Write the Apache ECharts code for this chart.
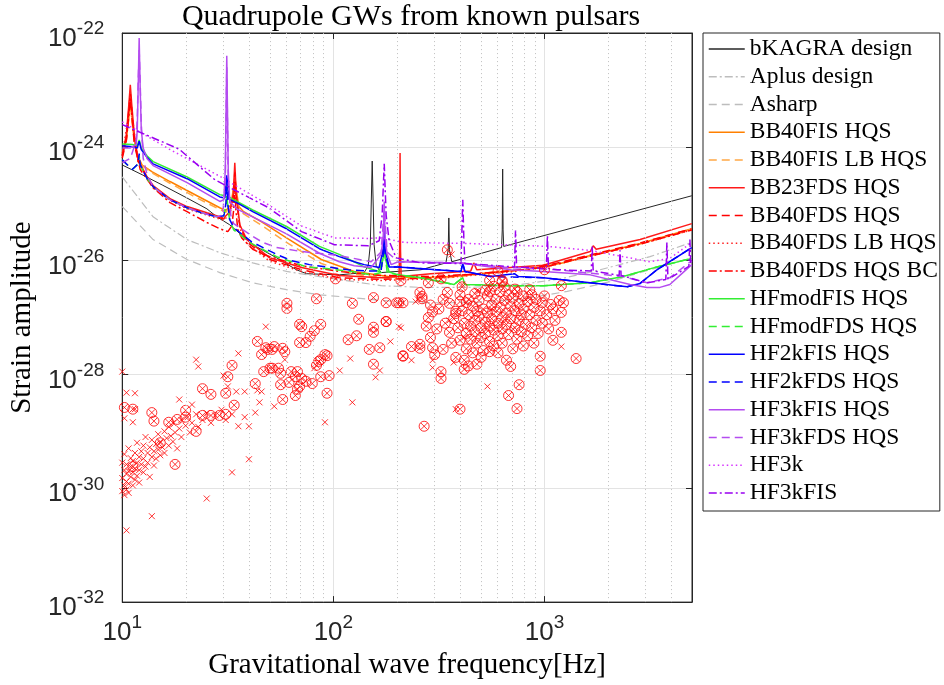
<!DOCTYPE html>
<html><head><meta charset="utf-8">
<script src="https://cdn.jsdelivr.net/npm/echarts@6/dist/echarts.min.js"></script>
<style>html,body{margin:0;padding:0;background:#fff}#c{width:944px;height:685px}</style>
</head><body><div id="c"></div>
<script>
// All values are [log10(frequency / Hz), log10(strain amplitude)].
const xTickValues = [10, 100, 1000];
const yTickExponents = [-32, -30, -28, -26, -24, -22];

const bKAGRA = [[1.000,-24.32],[1.094,-24.49],[1.189,-24.67],[1.302,-24.89],[1.401,-25.09],[1.448,-25.23],[1.509,-25.37],[1.618,-25.72],[1.731,-25.95],[1.825,-26.16],[1.873,-26.23],[2.028,-26.25],[2.146,-26.21],[2.165,-26.09],[2.175,-25.72],[2.184,-24.25],[2.193,-25.72],[2.203,-26.09],[2.226,-26.21],[2.415,-26.16],[2.533,-26.04],[2.544,-25.81],[2.547,-25.25],[2.550,-25.81],[2.561,-26.02],[2.797,-25.77],[2.800,-25.46],[2.802,-24.39],[2.804,-25.46],[2.807,-25.75],[3.698,-24.86]];
const aplus = [[1.000,-24.53],[1.146,-25.23],[1.307,-25.63],[1.462,-25.86],[1.618,-26.04],[1.778,-26.19],[1.934,-26.28],[2.061,-26.35],[2.226,-26.44],[2.415,-26.47],[2.651,-26.47],[2.887,-26.42],[3.075,-26.32],[3.264,-26.16],[3.500,-25.93],[3.698,-25.68]];
const asharp = [[1.000,-25.05],[1.146,-25.63],[1.307,-25.98],[1.462,-26.21],[1.618,-26.39],[1.778,-26.51],[1.934,-26.60],[2.028,-26.63],[2.226,-26.70],[2.429,-26.74],[2.651,-26.74],[2.887,-26.68],[3.108,-26.54],[3.311,-26.37],[3.500,-26.16],[3.698,-25.95]];
const bb40fis = [[1.000,-24.11],[1.019,-23.88],[1.031,-23.49],[1.038,-23.21],[1.045,-23.49],[1.057,-23.88],[1.071,-24.14],[1.094,-24.32],[1.142,-24.44],[1.226,-24.61],[1.354,-24.86],[1.462,-25.07],[1.491,-25.12],[1.514,-25.02],[1.526,-24.75],[1.533,-24.51],[1.540,-24.75],[1.552,-25.05],[1.575,-25.14],[1.660,-25.32],[1.778,-25.60],[1.943,-25.98],[2.099,-26.19],[2.259,-26.28],[2.415,-26.30],[2.571,-26.28],[2.745,-26.21],[2.901,-26.16],[3.075,-26.05],[3.217,-25.91],[3.453,-25.70],[3.698,-25.44]];
const bb40fisLB = [[1.000,-24.11],[1.019,-23.88],[1.031,-23.49],[1.038,-23.21],[1.045,-23.49],[1.057,-23.88],[1.071,-24.14],[1.094,-24.33],[1.142,-24.46],[1.226,-24.64],[1.354,-24.90],[1.462,-25.10],[1.491,-25.15],[1.514,-25.05],[1.526,-24.78],[1.533,-24.55],[1.540,-24.78],[1.552,-25.08],[1.575,-25.18],[1.660,-25.38],[1.778,-25.68],[1.943,-26.05],[2.099,-26.24],[2.259,-26.31],[2.415,-26.32],[2.571,-26.29],[2.745,-26.22],[2.901,-26.16],[3.075,-26.05],[3.217,-25.92],[3.453,-25.71],[3.698,-25.45]];
const bb23fds = [[1.000,-24.14],[1.019,-23.79],[1.031,-23.26],[1.038,-22.91],[1.045,-23.26],[1.057,-23.79],[1.075,-24.23],[1.118,-24.53],[1.146,-24.68],[1.226,-24.91],[1.307,-25.05],[1.401,-25.16],[1.481,-25.25],[1.509,-25.14],[1.526,-24.84],[1.533,-24.28],[1.540,-24.84],[1.557,-25.37],[1.590,-25.63],[1.698,-25.95],[1.849,-26.12],[2.028,-26.26],[2.226,-26.30],[2.311,-26.28],[2.314,-25.81],[2.316,-24.11],[2.318,-25.81],[2.321,-26.28],[2.462,-26.23],[2.651,-26.18],[2.665,-26.04],[2.679,-26.16],[2.840,-26.12],[2.995,-26.08],[3.217,-25.84],[3.231,-25.74],[3.245,-25.80],[3.453,-25.63],[3.698,-25.35]];
const bb40fds = [[1.000,-24.16],[1.019,-23.85],[1.031,-23.35],[1.038,-23.05],[1.045,-23.35],[1.057,-23.85],[1.075,-24.25],[1.118,-24.55],[1.146,-24.70],[1.226,-24.92],[1.307,-25.07],[1.401,-25.18],[1.481,-25.27],[1.509,-25.16],[1.526,-24.90],[1.533,-24.45],[1.540,-24.90],[1.557,-25.40],[1.590,-25.67],[1.698,-25.98],[1.849,-26.16],[2.028,-26.30],[2.226,-26.33],[2.462,-26.30],[2.651,-26.24],[2.840,-26.18],[2.995,-26.10],[3.217,-25.90],[3.453,-25.69],[3.698,-25.44]];
const bb40fdsLB = [[1.000,-24.16],[1.031,-23.40],[1.038,-23.10],[1.045,-23.40],[1.075,-24.27],[1.146,-24.72],[1.226,-24.94],[1.307,-25.09],[1.401,-25.20],[1.481,-25.29],[1.509,-25.18],[1.526,-24.95],[1.533,-24.55],[1.540,-24.95],[1.557,-25.43],[1.590,-25.70],[1.698,-26.01],[1.849,-26.19],[2.028,-26.33],[2.226,-26.35],[2.462,-26.32],[2.651,-26.26],[2.840,-26.20],[2.995,-26.12],[3.217,-25.92],[3.453,-25.71],[3.698,-25.46]];
const bb40fdsBC = [[1.000,-24.20],[1.019,-23.90],[1.031,-23.45],[1.038,-23.15],[1.045,-23.45],[1.057,-23.95],[1.085,-24.40],[1.146,-24.72],[1.226,-24.98],[1.307,-25.14],[1.401,-25.33],[1.462,-25.44],[1.500,-25.49],[1.519,-25.39],[1.528,-25.10],[1.533,-24.70],[1.538,-25.10],[1.547,-25.45],[1.566,-25.60],[1.618,-25.80],[1.698,-25.93],[1.849,-26.09],[2.028,-26.19],[2.226,-26.26],[2.462,-26.28],[2.651,-26.24],[2.840,-26.18],[2.995,-26.12],[3.217,-25.92],[3.453,-25.71],[3.698,-25.46]];
const hfmodFIS = [[1.000,-23.95],[1.047,-23.96],[1.071,-23.98],[1.080,-23.88],[1.090,-24.02],[1.118,-24.16],[1.146,-24.26],[1.307,-24.53],[1.462,-24.84],[1.486,-24.86],[1.495,-24.60],[1.505,-24.88],[1.528,-24.93],[1.618,-25.11],[1.778,-25.40],[1.934,-25.75],[2.028,-25.89],[2.146,-26.11],[2.217,-26.19],[2.236,-25.95],[2.241,-25.65],[2.245,-25.95],[2.264,-26.20],[2.307,-26.25],[2.415,-26.30],[2.571,-26.42],[2.613,-26.30],[2.623,-26.42],[2.840,-26.44],[2.995,-26.44],[3.217,-26.39],[3.373,-26.28],[3.533,-26.11],[3.698,-25.96]];
const hfmodFDS = [[1.000,-24.23],[1.047,-24.40],[1.075,-24.30],[1.080,-24.15],[1.085,-24.32],[1.118,-24.56],[1.146,-24.70],[1.226,-24.93],[1.307,-25.07],[1.377,-25.16],[1.448,-25.23],[1.481,-25.21],[1.491,-25.05],[1.495,-24.85],[1.500,-25.05],[1.509,-25.30],[1.528,-25.46],[1.613,-25.70],[1.731,-25.93],[1.873,-26.11],[1.967,-26.14],[2.085,-26.19],[2.179,-26.25],[2.226,-26.21],[2.241,-25.75],[2.255,-26.21],[2.307,-26.25],[2.415,-26.30],[2.571,-26.42],[2.613,-26.30],[2.623,-26.42],[2.840,-26.44],[2.995,-26.44],[3.217,-26.39],[3.373,-26.28],[3.533,-26.11],[3.698,-25.96]];
const hf2kFIS = [[1.000,-23.98],[1.047,-24.00],[1.071,-24.02],[1.080,-23.90],[1.090,-24.05],[1.118,-24.19],[1.146,-24.30],[1.307,-24.56],[1.462,-24.88],[1.486,-24.90],[1.495,-24.50],[1.505,-24.92],[1.542,-24.98],[1.618,-25.14],[1.778,-25.44],[1.934,-25.79],[2.028,-25.93],[2.099,-26.02],[2.146,-26.07],[2.217,-26.12],[2.236,-25.80],[2.241,-25.40],[2.245,-25.80],[2.264,-26.11],[2.307,-26.11],[2.604,-26.19],[2.613,-26.05],[2.623,-26.19],[2.745,-26.28],[2.858,-26.23],[2.877,-26.28],[2.995,-26.30],[3.217,-26.39],[3.392,-26.46],[3.453,-26.40],[3.533,-26.16],[3.698,-25.77]];
const hf2kFDS = [[1.000,-24.23],[1.047,-24.40],[1.075,-24.30],[1.080,-24.12],[1.085,-24.32],[1.118,-24.56],[1.146,-24.70],[1.226,-24.93],[1.307,-25.07],[1.377,-25.16],[1.448,-25.23],[1.481,-25.21],[1.491,-25.00],[1.495,-24.70],[1.500,-25.00],[1.509,-25.28],[1.528,-25.42],[1.613,-25.67],[1.731,-25.89],[1.802,-26.00],[1.887,-26.07],[2.071,-26.16],[2.146,-26.18],[2.226,-26.18],[2.236,-25.90],[2.241,-25.50],[2.245,-25.90],[2.264,-26.11],[2.307,-26.11],[2.604,-26.19],[2.613,-26.05],[2.623,-26.19],[2.745,-26.28],[2.995,-26.30],[3.217,-26.39],[3.392,-26.46],[3.453,-26.40],[3.533,-26.16],[3.698,-25.77]];
const hf3kFIS = [[1.000,-24.02],[1.038,-24.02],[1.066,-23.96],[1.071,-23.70],[1.075,-23.00],[1.080,-22.09],[1.085,-23.00],[1.090,-23.70],[1.099,-24.02],[1.118,-24.21],[1.146,-24.33],[1.307,-24.63],[1.462,-24.96],[1.481,-24.93],[1.488,-24.40],[1.495,-22.40],[1.502,-24.40],[1.509,-24.96],[1.542,-25.09],[1.618,-25.23],[1.778,-25.53],[1.934,-25.87],[2.028,-26.02],[2.099,-26.09],[2.179,-26.12],[2.226,-25.89],[2.236,-25.60],[2.241,-24.96],[2.245,-25.60],[2.255,-25.89],[2.274,-26.07],[2.307,-26.02],[2.604,-26.04],[2.840,-26.16],[2.995,-26.19],[3.217,-26.25],[3.406,-26.42],[3.486,-26.47],[3.547,-26.47],[3.594,-26.42],[3.656,-26.21],[3.698,-26.07]];
const hf3kFDS = [[1.000,-24.28],[1.038,-24.20],[1.066,-23.90],[1.071,-23.50],[1.075,-22.90],[1.080,-22.30],[1.085,-22.90],[1.090,-23.60],[1.099,-24.20],[1.118,-24.50],[1.146,-24.70],[1.226,-24.93],[1.307,-25.07],[1.377,-25.16],[1.448,-25.23],[1.476,-25.20],[1.488,-24.60],[1.495,-22.60],[1.502,-24.60],[1.514,-25.20],[1.528,-25.35],[1.613,-25.56],[1.665,-25.68],[1.731,-25.77],[1.849,-25.84],[2.028,-25.91],[2.179,-26.02],[2.226,-25.85],[2.241,-25.10],[2.255,-25.85],[2.307,-26.02],[2.604,-26.04],[2.825,-26.12],[3.061,-26.16],[3.373,-26.28],[3.486,-26.39],[3.594,-26.30],[3.698,-26.00]];
const hf3k = [[1.000,-23.56],[1.222,-24.04],[1.458,-24.51],[1.693,-25.02],[1.849,-25.39],[2.005,-25.60],[2.165,-25.61],[2.226,-25.60],[2.335,-25.68],[2.651,-25.70],[3.014,-25.75],[3.217,-25.82],[3.373,-25.93],[3.500,-26.02],[3.594,-25.96],[3.698,-25.68]];
const hf3kFISdd = [[1.000,-23.61],[1.269,-24.04],[1.439,-24.58],[1.693,-25.07],[1.849,-25.49],[2.005,-25.72],[2.165,-25.74],[2.217,-25.65],[2.231,-25.20],[2.241,-24.30],[2.250,-25.20],[2.264,-25.65],[2.297,-25.95],[2.415,-26.04],[2.604,-26.05],[2.608,-25.60],[2.613,-24.93],[2.618,-25.60],[2.623,-26.05],[2.858,-26.11],[2.863,-25.47],[2.868,-26.11],[3.009,-26.14],[3.014,-25.56],[3.019,-26.14],[3.061,-26.16],[3.222,-26.18],[3.226,-25.74],[3.231,-26.18],[3.354,-26.26],[3.358,-25.82],[3.363,-26.26],[3.486,-26.39],[3.575,-26.33],[3.580,-25.68],[3.585,-26.33],[3.684,-26.10],[3.689,-25.63],[3.693,-26.05],[3.698,-26.00]];

// pulsars shown with a plain cross
const crossPts = [[1.00,-29.55],[1.00,-29.82],[1.00,-30.05],[1.01,-29.68],[1.01,-29.95],[1.01,-30.12],[1.01,-29.40],[1.02,-29.75],[1.02,-29.88],[1.02,-30.02],[1.02,-29.58],[1.03,-29.30],[1.03,-29.70],[1.03,-29.92],[1.03,-30.08],[1.04,-29.62],[1.04,-29.80],[1.04,-29.47],[1.05,-29.95],[1.05,-29.72],[1.05,-29.52],[1.06,-29.85],[1.06,-29.38],[1.06,-29.65],[1.07,-29.55],[1.07,-29.78],[1.07,-29.20],[1.08,-29.45],[1.08,-29.68],[1.08,-29.90],[1.09,-29.35],[1.09,-29.58],[1.10,-29.25],[1.10,-29.48],[1.10,-29.72],[1.11,-29.62],[1.11,-29.10],[1.12,-29.38],[1.12,-29.55],[1.13,-29.28],[1.13,-29.80],[1.14,-29.45],[1.14,-29.15],[1.15,-29.35],[1.15,-29.60],[1.16,-29.22],[1.16,-29.48],[1.17,-29.05],[1.17,-29.32],[1.18,-29.42],[1.18,-29.18],[1.19,-29.28],[1.20,-29.00],[1.20,-29.38],[1.21,-29.12],[1.22,-29.25],[1.22,-28.92],[1.23,-29.08],[1.24,-29.18],[1.24,-28.85],[1.25,-29.02],[1.26,-29.30],[1.27,-28.95],[1.28,-28.80],[1.28,-29.10],[1.30,-28.90],[1.31,-28.75],[1.32,-29.02],[1.33,-28.85],[1.35,-28.70],[1.36,-28.92],[1.38,-28.80],[1.40,-28.68],[1.42,-28.85],[1.44,-28.72],[1.47,-28.62],[1.49,-28.80],[1.52,-28.70],
[1.00,-27.95],[1.02,-28.32],[1.06,-28.33],[1.01,-28.77],[1.05,-28.84],[1.06,-28.61],[1.27,-28.44],[1.33,-28.53],[1.02,-30.74],[1.14,-30.49],[1.40,-30.18],[1.52,-29.72],[1.60,-29.49],[1.55,-28.91],[1.60,-28.91],[1.58,-28.75],[1.63,-28.67],[1.35,-27.74],[1.36,-27.86],[1.55,-27.63],[1.48,-28.02],[1.50,-28.21],[1.54,-28.30],[1.58,-28.30],[1.64,-28.28],[1.66,-28.30],[1.65,-28.49],[1.72,-28.56],[1.77,-27.74],[1.68,-27.16],[1.91,-27.89],[2.03,-27.93],[2.09,-28.49],[1.96,-28.84],[2.08,-27.72],[2.20,-28.05],[2.22,-27.93],[2.27,-27.42],[2.31,-27.16],
[2.32,-27.18],[2.37,-27.75],[2.47,-27.75],[2.47,-27.88],[2.39,-26.72],[2.57,-27.79],[2.73,-28.21],[3.08,-27.51],[2.69,-26.54],[2.61,-26.42],[2.91,-26.68],[2.40,-26.68],[2.51,-26.33],[2.56,-25.89],[2.68,-26.53],[2.55,-27.05],[2.62,-27.35],[2.75,-26.85],[2.85,-27.20],[2.58,-28.61]];

// pulsars shown with a circled cross
const circPts = [[2.01,-26.32],[1.92,-26.67],[1.78,-26.75],[1.78,-26.84],[2.09,-26.75],[2.19,-26.65],[2.25,-26.74],[2.30,-26.74],[2.12,-27.03],[2.25,-27.07],[2.19,-27.17],[2.19,-27.26],[2.11,-27.32],[2.07,-27.39],[1.84,-27.12],[1.85,-27.16],[1.94,-27.12],[1.91,-27.23],[1.89,-27.33],[1.87,-27.44],[1.84,-27.44],[1.64,-27.42],[1.68,-27.53],[1.72,-27.51],[1.71,-27.56],[1.69,-27.56],[1.76,-27.54],[1.77,-27.60],[1.66,-27.65],[1.96,-27.65],[1.97,-27.67],[1.94,-27.74],[1.93,-27.77],[1.92,-27.84],[2.17,-27.56],[2.22,-27.53],[2.19,-27.82],[2.33,-27.68],[1.52,-27.84],[1.50,-28.04],[1.67,-27.95],[1.71,-27.89],[1.74,-27.89],[1.70,-27.89],[1.75,-27.98],[1.80,-27.95],[1.83,-27.95],[1.75,-28.18],[1.79,-28.14],[1.82,-28.04],[1.85,-28.07],[1.87,-28.12],[1.90,-28.16],[1.84,-28.21],[1.83,-28.26],[1.82,-28.37],[1.76,-28.44],[1.98,-28.02],[1.94,-28.04],[1.97,-28.33],[1.63,-28.16],[1.38,-28.25],[1.42,-28.35],[1.49,-28.33],[1.53,-28.54],[1.01,-28.58],[1.05,-28.61],[1.15,-28.82],[1.22,-28.84],[1.26,-28.79],[1.30,-28.75],[1.38,-28.72],[1.42,-28.72],[1.46,-28.72],[1.49,-28.70],[1.35,-29.00],[1.25,-29.58],[1.14,-28.67],[1.30,-28.63],[1.18,-29.20],[1.05,-29.62],
[2.25,-27.07],[2.31,-26.74],[2.33,-26.74],[2.41,-26.56],[2.42,-26.63],[2.42,-26.67],[2.45,-27.00],[2.37,-27.51],[2.33,-27.67],[2.41,-27.47],[2.41,-27.54],[2.46,-27.35],[2.47,-27.53],[2.43,-28.91],[2.51,-27.95],[2.51,-28.07],[2.54,-26.56],[2.60,-28.61],[2.58,-26.89],[2.58,-26.93],[2.55,-27.26],[2.52,-27.56],[2.62,-27.91],[2.64,-26.68],[2.63,-26.74],[2.68,-26.89],[2.74,-26.54],[2.80,-26.37],[2.81,-26.46],[2.74,-27.60],[2.68,-27.82],[2.84,-27.86],[2.83,-28.37],[2.88,-28.18],[2.87,-28.60],[2.93,-26.51],[2.99,-26.74],[3.03,-26.77],[2.98,-27.93],[3.08,-26.91],[3.09,-26.74],[3.08,-27.26],[3.04,-27.40],[2.98,-27.68],[3.15,-27.72],
[2.54,-25.81],[2.78,-26.19],[2.51,-26.32],[2.74,-26.35],[2.80,-26.35],[3.00,-26.16],[3.08,-26.44],[2.61,-26.46],[2.32,-26.35],[2.45,-26.39],[2.60,-26.72],
[2.57,-27.02],[2.59,-27.18],[2.60,-27.40],[2.61,-26.88],[2.62,-27.10],[2.63,-27.28],[2.63,-27.55],[2.64,-26.95],[2.65,-27.15],[2.65,-27.38],[2.66,-26.80],[2.66,-27.62],[2.67,-27.05],[2.67,-27.25],[2.68,-27.45],[2.69,-26.70],[2.69,-26.98],[2.70,-27.18],[2.70,-27.35],[2.71,-26.85],[2.71,-27.58],[2.72,-27.08],[2.72,-27.28],[2.73,-26.62],[2.73,-26.92],[2.74,-27.15],[2.74,-27.42],[2.75,-26.78],[2.75,-27.02],[2.76,-27.22],[2.76,-27.50],[2.77,-26.68],[2.77,-26.90],[2.78,-27.10],[2.78,-27.32],[2.79,-26.55],[2.79,-26.82],[2.80,-27.00],[2.80,-27.20],[2.80,-27.45],[2.81,-26.70],[2.82,-26.92],[2.82,-27.12],[2.83,-26.60],[2.83,-27.30],[2.84,-26.80],[2.84,-27.02],[2.85,-27.55],[2.85,-26.66],[2.86,-26.88],[2.86,-27.18],[2.87,-26.55],[2.87,-27.38],[2.88,-26.75],[2.88,-27.05],[2.89,-26.95],[2.89,-27.25],[2.90,-26.62],[2.90,-26.85],[2.91,-27.12],[2.92,-26.72],[2.92,-27.32],[2.93,-26.95],[2.94,-26.60],[2.94,-27.18],[2.95,-26.82],[2.96,-27.05],[2.96,-26.68],[2.97,-27.28],[2.98,-26.88],[2.99,-27.10],[3.00,-26.62],[3.01,-26.95],[3.02,-27.20],[3.04,-26.85],[3.05,-27.05],[3.07,-26.70],[2.55,-26.75],[2.56,-27.45],[2.58,-27.70],[2.60,-26.60],[2.62,-27.75],[2.64,-27.85],[2.53,-27.10],[2.50,-26.85],[2.49,-27.20],[2.47,-26.90],[2.48,-27.65],[2.52,-26.68],[2.44,-27.15],[2.46,-26.78],[2.70,-27.70],[2.78,-27.62],[2.82,-27.75],[2.90,-27.50],[2.95,-27.45],[2.72,-26.52],[2.67,-26.58],[2.86,-26.50],[2.76,-26.45]];

// grid-line positions (axis decoration only)
const xMinorGrid = [20,30,40,50,60,70,80,90,200,300,400,500,600,700,800,900,2000,3000,4000];
const yMinorDecades = [-32,-31,-30,-29,-28,-27,-26,-25,-24,-23];
const yMinorMults = [2,3,4,5,6,7,8,9];

const toLin = p => [Math.pow(10, p[0]), Math.pow(10, p[1])];
const DASH = [8, 5], DOT = [1.5, 3], DASHDOT = [8, 3, 2, 3];
const curves = [
  {name:'bKAGRA design', data:bKAGRA, color:'#262626', type:'solid', w:1},
  {name:'Aplus design', data:aplus, color:'#bdbdbd', type:DASHDOT, w:1.2},
  {name:'Asharp', data:asharp, color:'#bdbdbd', type:DASH, w:1.2},
  {name:'BB40FIS HQS', data:bb40fis, color:'#ff8000', type:'solid', w:1.5},
  {name:'BB40FIS LB HQS', data:bb40fisLB, color:'#ffa845', type:DASH, w:1.5},
  {name:'BB23FDS HQS', data:bb23fds, color:'#ff1a1a', type:'solid', w:1.5},
  {name:'BB40FDS HQS', data:bb40fds, color:'#ff0000', type:DASH, w:1.5},
  {name:'BB40FDS LB HQS', data:bb40fdsLB, color:'#ff2020', type:DOT, w:1.5},
  {name:'BB40FDS HQS BC', data:bb40fdsBC, color:'#ff0000', type:DASHDOT, w:1.5},
  {name:'HFmodFIS HQS', data:hfmodFIS, color:'#33ee33', type:'solid', w:1.5},
  {name:'HFmodFDS HQS', data:hfmodFDS, color:'#33ee33', type:DASH, w:1.5},
  {name:'HF2kFIS HQS', data:hf2kFIS, color:'#0000ff', type:'solid', w:1.5},
  {name:'HF2kFDS HQS', data:hf2kFDS, color:'#0000ff', type:DASH, w:1.5},
  {name:'HF3kFIS HQS', data:hf3kFIS, color:'#b44cf0', type:'solid', w:1.5},
  {name:'HF3kFDS HQS', data:hf3kFDS, color:'#b44cf0', type:DASH, w:1.5},
  {name:'HF3k', data:hf3k, color:'#d633ff', type:DOT, w:1.5},
  {name:'HF3kFIS', data:hf3kFISdd, color:'#9900f0', type:DASHDOT, w:1.5}
];

const yMinorGrid = [];
yMinorDecades.forEach(e => {
  if (e % 2 !== 0) yMinorGrid.push(Math.pow(10, e));
  yMinorMults.forEach(m => yMinorGrid.push(m * Math.pow(10, e)));
});

const SANS = 'Liberation Sans', SERIF = 'Liberation Serif';
const tickRich = {
  b: {fontFamily:SANS, fontSize:26, color:'#262626', padding:[12,0,0,0]},
  s: {fontFamily:SANS, fontSize:19, color:'#262626', padding:[0,0,8,0]}
};
const xLabel = v => {
  const e = Math.log10(v);
  if (Math.abs(e - Math.round(e)) > 1e-6) return '';
  return '{b|10}{s|' + Math.round(e) + '}';
};

const series = [{
  type:'line', name:'_grid', data:[], silent:true, z:1, xAxisIndex:0, yAxisIndex:0,
  markLine:{silent:true, symbol:['none','none'], animation:false, label:{show:false},
    lineStyle:{color:'#bfbfbf', type:[1,3], width:1},
    emphasis:{disabled:true},
    data:[...xMinorGrid.map(v => ({xAxis:v})), ...yMinorGrid.map(v => ({yAxis:v}))]}
}];
curves.forEach(c => series.push({
  type:'line', name:c.name, data:c.data.map(toLin), xAxisIndex:0, yAxisIndex:0,
  symbol:'none', showSymbol:false, silent:true, z:3, clip:true,
  lineStyle:{color:c.color, width:c.w, type:c.type}, itemStyle:{color:c.color},
  emphasis:{disabled:true}
}));
series.push({
  type:'scatter', name:'cross', data:crossPts.map(toLin), xAxisIndex:0, yAxisIndex:0,
  symbol:'path://M0,0L10,10M10,0L0,10', symbolSize:6, silent:true, z:4,
  itemStyle:{color:'rgba(0,0,0,0)', borderColor:'#ff0000', borderWidth:1}
});
series.push({
  type:'scatter', name:'circ', data:circPts.map(toLin), xAxisIndex:0, yAxisIndex:0,
  symbol:'path://M10,0A10,10,0,1,1,10,20A10,10,0,1,1,10,0ZM3.3,3.3L16.7,16.7M16.7,3.3L3.3,16.7',
  symbolSize:10, silent:true, z:4,
  itemStyle:{color:'rgba(0,0,0,0)', borderColor:'#ff0000', borderWidth:1}
});

const chart = echarts.init(document.getElementById('c'), null, {renderer:'canvas'});
chart.setOption({
  animation:false,
  backgroundColor:'#ffffff',
  title:{text:'Quadrupole GWs from known pulsars', left:406, top:-3, textAlign:'center',
    textStyle:{fontFamily:SERIF, fontSize:30, fontWeight:'normal', color:'#000'}},
  grid:{left:120, right:252, top:33, bottom:82, show:true, borderColor:'#262626', borderWidth:1, backgroundColor:'transparent'},
  legend:{
    data:curves.map(c => c.name), orient:'vertical', left:703, top:33,
    padding:[4,2,6,5], itemWidth:36, itemHeight:14, itemGap:3.75, selectedMode:false,
    borderColor:'#262626', borderWidth:1, backgroundColor:'#fff',
    itemStyle:{opacity:0, borderWidth:0},
    lineStyle:{width:1.5},
    textStyle:{fontFamily:SERIF, fontSize:23.5, color:'#000', lineHeight:24}
  },
  xAxis:[{
    type:'log', logBase:10, min:10, max:5000, position:'bottom',
    name:'Gravitational wave frequency[Hz]', nameLocation:'middle', nameGap:43,
    nameTextStyle:{fontFamily:SERIF, fontSize:29, color:'#000'},
    axisLine:{lineStyle:{color:'#262626'}}, axisTick:{inside:true, length:6, lineStyle:{color:'#262626'}},
    axisLabel:{margin:6, formatter:xLabel, rich:tickRich, showMaxLabel:false},
    splitLine:{show:true, lineStyle:{color:'#e3e3e3', width:1}}, minorTick:{show:false}
  },{
    type:'log', logBase:10, min:10, max:5000, position:'top',
    axisLine:{show:true, lineStyle:{color:'#262626'}}, axisTick:{inside:true, length:6, lineStyle:{color:'#262626'}},
    axisLabel:{show:false}, splitLine:{show:false}
  }],
  yAxis:[{
    type:'log', logBase:10, min:1e-32, max:1e-22, show:false
  },{
    type:'value', min:-32, max:-22, interval:2, position:'left',
    name:'Strain amplitude', nameLocation:'middle', nameGap:80,
    nameTextStyle:{fontFamily:SERIF, fontSize:29, color:'#000'},
    axisLine:{show:true, lineStyle:{color:'#262626'}}, axisTick:{show:true, inside:true, length:6, lineStyle:{color:'#262626'}},
    axisLabel:{margin:18, formatter:v => '{b|10}{s|' + v + '}', rich:tickRich},
    splitLine:{show:true, lineStyle:{color:'#e3e3e3', width:1}}
  },{
    type:'value', min:-32, max:-22, interval:2, position:'right',
    axisLine:{show:true, lineStyle:{color:'#262626'}}, axisTick:{show:true, inside:true, length:6, lineStyle:{color:'#262626'}},
    axisLabel:{show:false}, splitLine:{show:false}
  }],
  series:series
});
</script></body></html>
